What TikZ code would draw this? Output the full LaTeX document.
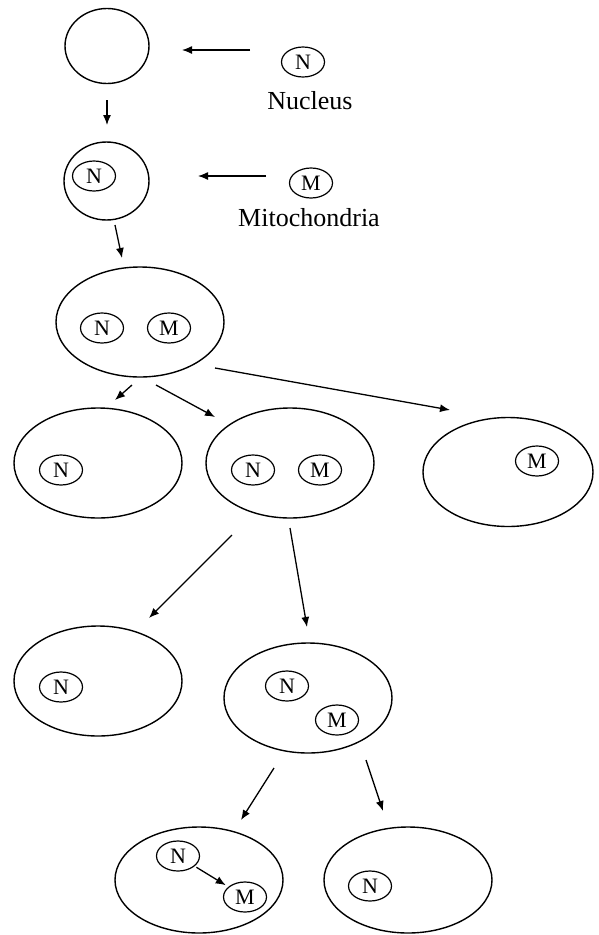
\documentclass[tikz,border=0pt]{standalone}
\usepackage{fontspec}
\setmainfont{Liberation Serif}
\usetikzlibrary{shapes.geometric,arrows.meta}
\begin{document}
\begin{tikzpicture}[x=1pt,y=-1pt,
  cell/.style={draw, ellipse, line width=1.4pt, inner sep=0pt, minimum width=168pt, minimum height=110pt},
  org/.style={draw, ellipse, line width=1.2pt, minimum width=43pt, minimum height=30pt, inner sep=0pt, font=\fontsize{22}{22}\selectfont},
  arr/.style={-{Latex[length=10pt,width=8pt]}, line width=1.3pt},
  lab/.style={font=\fontsize{26}{26}\selectfont, anchor=base, inner sep=0pt}]
\useasboundingbox (0,0) rectangle (598,935);

% row 1
\node[cell, minimum width=84pt, minimum height=75pt] (c1) at (107,46) {};
\node[org] (legN) at (303,62) {N};
\node[lab] (nuc) at (310,109) {Nucleus};
% row 2
\node[cell, minimum width=85pt, minimum height=78pt] (c2) at (106.5,181) {};
\node[org] (c2N) at (94,176) {N};
\node[org] (legM) at (311,183) {M};
\node[lab] (mit) at (309,226) {Mitochondria};
% row 3
\node[cell] (c3) at (140,322) {};
\node[org] (c3N) at (102,328) {N};
\node[org] (c3M) at (169,328) {M};
% row 4
\node[cell] (l4) at (98,463) {};
\node[org] (l4N) at (61,470) {N};
\node[cell] (m4) at (290,463) {};
\node[org] (m4N) at (253,470) {N};
\node[org] (m4M) at (320,470) {M};
\node[cell, minimum width=170pt, minimum height=109pt] (r4) at (508,472) {};
\node[org] (r4M) at (537,461) {M};
% row 5
\node[cell] (l5) at (98,681) {};
\node[org] (l5N) at (61,687) {N};
\node[cell] (m5) at (308,698) {};
\node[org] (m5N) at (287,686) {N};
\node[org] (m5M) at (337,720) {M};
% row 6
\node[cell, minimum height=106pt] (b1) at (199,880) {};
\node[org] (b1N) at (178,856) {N};
\node[org] (b1M) at (245,897) {M};
\node[cell, minimum height=106pt] (b2) at (408,880) {};
\node[org] (b2N) at (370,886) {N};

% arrow end points
\coordinate (a1s) at (250,50);  \coordinate (a1e) at (182,50);
\coordinate (a2s) at (107,100); \coordinate (a2e) at (107,125);
\coordinate (a3s) at (266,176); \coordinate (a3e) at (198,176);
\coordinate (a4s) at (115,225); \coordinate (a4e) at (122,258);
\coordinate (a5s) at (132,385); \coordinate (a5e) at (115,400);
\coordinate (a6s) at (156,385); \coordinate (a6e) at (215,417);
\coordinate (a7s) at (215,368); \coordinate (a7e) at (450,410);
\coordinate (a8s) at (232,535); \coordinate (a8e) at (149,618);
\coordinate (a9s) at (290,528); \coordinate (a9e) at (307,627);
\coordinate (a10s) at (274,768); \coordinate (a10e) at (241,820);
\coordinate (a11s) at (366,760); \coordinate (a11e) at (383,811);

\draw[arr] (a1s) -- (a1e);
\draw[arr] (a2s) -- (a2e);
\draw[arr] (a3s) -- (a3e);
\draw[arr] (a4s) -- (a4e);
\draw[arr] (a5s) -- (a5e);
\draw[arr] (a6s) -- (a6e);
\draw[arr] (a7s) -- (a7e);
\draw[arr] (a8s) -- (a8e);
\draw[arr] (a9s) -- (a9e);
\draw[arr] (a10s) -- (a10e);
\draw[arr] (a11s) -- (a11e);
\draw[arr, shorten <=2pt, shorten >=3pt] (b1N) -- (b1M);
\end{tikzpicture}
\end{document}
